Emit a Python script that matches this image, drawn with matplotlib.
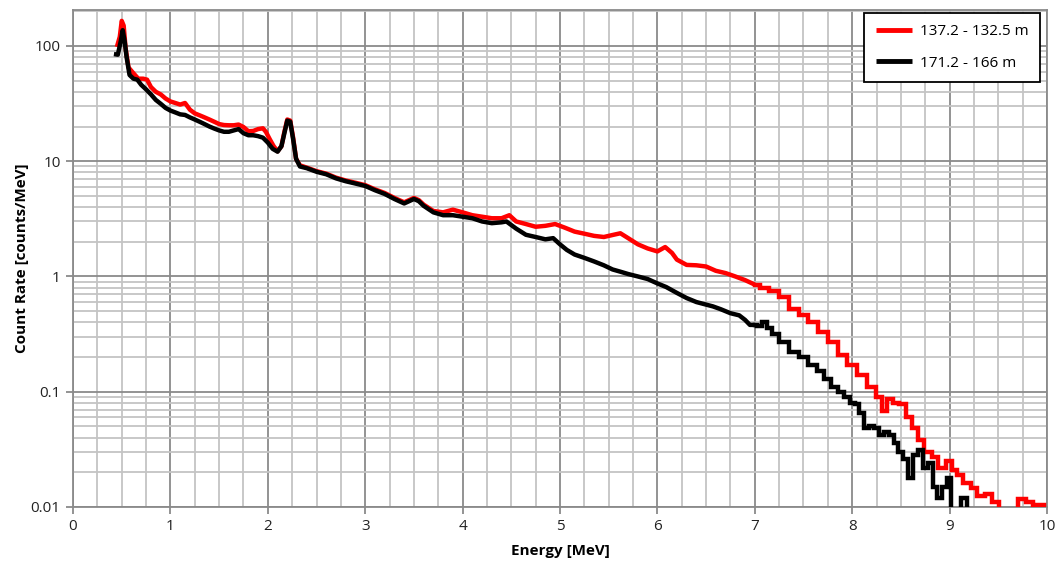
import matplotlib
matplotlib.use("Agg")
import matplotlib.pyplot as plt
from matplotlib.ticker import MultipleLocator, LogLocator, FixedLocator, NullFormatter
import numpy as np

plt.rcParams['font.family'] = ['Open Sans', 'DejaVu Sans']

# Spectrum, depth interval 137.2 - 132.5 m
energy_a = [0.45, 0.48, 0.50, 0.52, 0.54, 0.57, 0.62, 0.67, 0.72, 0.76, 0.80, 0.85, 0.90, 0.95,
            1.00, 1.05, 1.10, 1.15, 1.20, 1.25, 1.30, 1.35, 1.40, 1.45, 1.50, 1.55, 1.60, 1.65,
            1.70, 1.75, 1.80, 1.85, 1.90, 1.95, 1.98, 2.02, 2.06, 2.10, 2.14, 2.17, 2.20, 2.23,
            2.26, 2.29, 2.33, 2.40, 2.50, 2.60, 2.70, 2.80, 2.90, 3.00, 3.10, 3.20, 3.30, 3.40,
            3.50, 3.55, 3.60, 3.70, 3.80, 3.90, 4.00, 4.10, 4.20, 4.30, 4.40, 4.48, 4.55, 4.65,
            4.75, 4.85, 4.95, 5.05, 5.15, 5.25, 5.35, 5.45, 5.55, 5.62, 5.70, 5.80, 5.90, 6.00,
            6.08, 6.15, 6.20, 6.30, 6.40, 6.50, 6.60, 6.70, 6.80, 6.90, 7.00, 7.10, 7.20, 7.30,
            7.40, 7.50, 7.60, 7.70, 7.80, 7.90, 8.00, 8.10, 8.20, 8.28, 8.33, 8.38, 8.45, 8.52,
            8.58, 8.65, 8.70, 8.78, 8.85, 8.92, 9.00, 9.05, 9.10, 9.18, 9.25, 9.32, 9.40, 9.47,
            9.55, 9.65, 9.75, 9.82, 9.90, 9.97]
rate_a = [98, 120, 165, 150, 95, 65, 58, 52, 52, 51, 44, 40, 38, 35,
          33, 32, 31, 32, 28, 26, 25, 24, 23, 22, 21, 20.6, 20.5, 20.5,
          20.8, 19.8, 18.2, 18.3, 19.0, 19.3, 18, 15.5, 13.5, 12.2, 13.5, 18, 23, 22.5,
          16, 10.5, 9.2, 8.8, 8.2, 7.8, 7.2, 6.8, 6.5, 6.2, 5.7, 5.3, 4.8, 4.4,
          4.8, 4.6, 4.2, 3.7, 3.6, 3.8, 3.6, 3.4, 3.3, 3.2, 3.2, 3.4, 3.0, 2.85,
          2.7, 2.75, 2.85, 2.65, 2.45, 2.35, 2.25, 2.2, 2.3, 2.37, 2.15, 1.9, 1.75, 1.65,
          1.8, 1.6, 1.4, 1.26, 1.25, 1.22, 1.12, 1.07, 1.0, 0.93, 0.85, 0.8, 0.75, 0.66,
          0.52, 0.46, 0.4, 0.33, 0.27, 0.21, 0.17, 0.14, 0.11, 0.09, 0.068, 0.087, 0.08, 0.078,
          0.06, 0.048, 0.038, 0.03, 0.027, 0.022, 0.025, 0.021, 0.019, 0.016, 0.0145, 0.0125, 0.013, 0.011,
          0.009, 0.009, 0.0117, 0.011, 0.0105, 0.0105]

# Spectrum, depth interval 171.2 - 166 m
energy_b = [0.42, 0.46, 0.49, 0.51, 0.53, 0.55, 0.58, 0.62, 0.66, 0.70, 0.75, 0.80, 0.85, 0.90,
            0.95, 1.00, 1.05, 1.10, 1.15, 1.20, 1.25, 1.30, 1.35, 1.40, 1.45, 1.50, 1.55, 1.60,
            1.65, 1.70, 1.75, 1.80, 1.85, 1.90, 1.95, 2.00, 2.05, 2.10, 2.14, 2.17, 2.20, 2.23,
            2.26, 2.29, 2.33, 2.40, 2.50, 2.60, 2.70, 2.80, 2.90, 3.00, 3.10, 3.20, 3.30, 3.40,
            3.50, 3.55, 3.60, 3.70, 3.80, 3.90, 4.00, 4.10, 4.20, 4.30, 4.40, 4.45, 4.55, 4.65,
            4.75, 4.85, 4.93, 5.00, 5.07, 5.15, 5.25, 5.35, 5.45, 5.54, 5.62, 5.70, 5.80, 5.90,
            6.00, 6.09, 6.20, 6.30, 6.40, 6.50, 6.57, 6.65, 6.75, 6.84, 6.90, 6.95, 7.00, 7.05,
            7.10, 7.15, 7.20, 7.30, 7.40, 7.50, 7.60, 7.68, 7.75, 7.82, 7.88, 7.95, 8.00, 8.05,
            8.10, 8.15, 8.20, 8.25, 8.30, 8.35, 8.40, 8.45, 8.50, 8.55, 8.60, 8.65, 8.70, 8.75,
            8.80, 8.85, 8.90, 8.95, 9.00, 9.03, 9.08, 9.15, 9.20]
rate_b = [85, 84, 110, 137, 110, 80, 56, 52, 51, 46, 42, 38, 34, 31.5,
          29, 27.5, 26.5, 25.5, 25.2, 24, 23, 22, 21, 20, 19.2, 18.5, 18, 18,
          18.5, 19, 17.5, 16.8, 16.8, 16.5, 16, 14.5, 12.8, 12.1, 13.5, 17.5, 22.5, 22,
          15.5, 10.5, 9.0, 8.7, 8.1, 7.7, 7.1, 6.7, 6.4, 6.1, 5.6, 5.2, 4.7, 4.3,
          4.7, 4.5, 4.1, 3.6, 3.4, 3.4, 3.3, 3.2, 3.0, 2.9, 2.95, 3.0, 2.6, 2.3,
          2.2, 2.1, 2.15, 1.9, 1.7, 1.55, 1.45, 1.35, 1.25, 1.15, 1.1, 1.05, 1.0, 0.95,
          0.87, 0.81, 0.72, 0.65, 0.6, 0.57, 0.55, 0.52, 0.48, 0.46, 0.42, 0.38, 0.38, 0.37,
          0.4, 0.36, 0.32, 0.27, 0.22, 0.2, 0.17, 0.15, 0.13, 0.11, 0.1, 0.09, 0.08, 0.078,
          0.065, 0.048, 0.05, 0.048, 0.042, 0.045, 0.042, 0.036, 0.03, 0.026, 0.018, 0.028, 0.031, 0.022,
          0.024, 0.015, 0.012, 0.015, 0.018, 0.009, 0.009, 0.012, 0.009]

labels = ['137.2 - 132.5 m', '171.2 - 166 m']
colors = ['#ff0000', '#000000']

# energy above which the sparse high-energy bins are drawn as a staircase
STEP_FROM = 7.0

fig = plt.figure(figsize=(10.6, 5.63), dpi=100)
ax = fig.add_axes([0.0689, 0.0995, 0.9188, 0.8827])


def draw_spectrum(e, r, color, label, z):
    e = np.asarray(e)
    r = np.asarray(r)
    lo = e <= STEP_FROM
    hi = e >= STEP_FROM
    ax.plot(e[lo], r[lo], color=color, lw=3.2, label=label, zorder=z,
            solid_joinstyle='round', solid_capstyle='butt')
    ax.plot(e[hi], r[hi], drawstyle='steps-mid', color=color, lw=3.2, zorder=z,
            solid_joinstyle='miter')


draw_spectrum(energy_a, rate_a, colors[0], labels[0], 3)
draw_spectrum(energy_b, rate_b, colors[1], labels[1], 4)

ax.set_yscale('log')
ax.set_xlim(0, 10)
ax.set_ylim(0.01, 205)

ax.xaxis.set_major_locator(MultipleLocator(1))
ax.xaxis.set_minor_locator(MultipleLocator(0.25))
ax.yaxis.set_major_locator(FixedLocator([0.01, 0.1, 1, 10, 100]))
ax.yaxis.set_minor_locator(LogLocator(base=10, subs=np.arange(2, 10)))
ax.yaxis.set_minor_formatter(NullFormatter())
ax.set_yticklabels(['0.01', '0.1', '1', '10', '100'])

major_c = '#8a8a8a'
minor_c = '#c4c4c4'
ax.grid(which='minor', color=minor_c, lw=1.3, zorder=0)
ax.grid(which='major', color=major_c, lw=1.3, zorder=1)
ax.set_axisbelow(True)

for s in ax.spines.values():
    s.set_color(major_c)
    s.set_linewidth(1.3)

ax.tick_params(which='major', direction='out', length=5, width=1.3, color=major_c,
               labelsize=11, labelcolor='#222222', pad=4)
ax.tick_params(which='minor', length=0)

ax.set_xlabel('Energy [MeV]', fontsize=11, fontweight='bold', labelpad=7)
ax.set_ylabel('Count Rate [counts/MeV]', fontsize=11, fontweight='bold', labelpad=1)

leg = ax.legend(loc='upper right', bbox_to_anchor=(0.9928, 0.994), borderaxespad=0,
                fontsize=11, frameon=True, fancybox=False, edgecolor='black', framealpha=1,
                handlelength=2.4, handletextpad=0.5, borderpad=0.75, labelspacing=1.05)
leg.get_frame().set_linewidth(1.3)
for line in leg.get_lines():
    line.set_linewidth(3.5)

fig.savefig('out.png', dpi=100)
